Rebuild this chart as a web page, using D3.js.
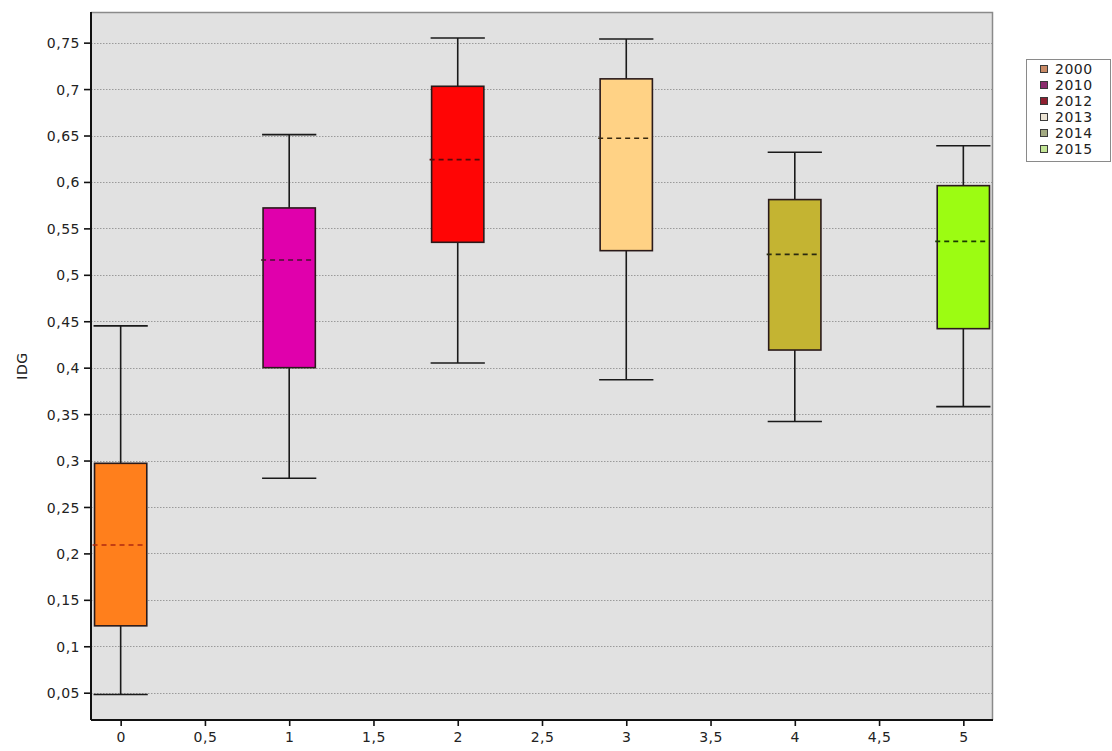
<!DOCTYPE html>
<html>
<head>
<meta charset="utf-8">
<script src="https://cdn.jsdelivr.net/npm/d3@7"></script>
<style>
  html, body { margin: 0; padding: 0; background: #ffffff; }
  svg { display: block; }
  text { font-family: "DejaVu Sans", "Liberation Sans", sans-serif; fill: #222; }
</style>
</head>
<body>
<svg id="chart" width="1112" height="751"></svg>
<script>
// ---- data ----
const categories   = ["2000", "2010", "2012", "2013", "2014", "2015"];
const positions    = [0, 1, 2, 3, 4, 5];
const whiskerLow   = [0.048, 0.281, 0.405, 0.387, 0.342, 0.358];
const q1           = [0.122, 0.400, 0.535, 0.526, 0.419, 0.442];
const medians      = [0.209, 0.516, 0.624, 0.647, 0.522, 0.536];
const q3           = [0.297, 0.572, 0.703, 0.711, 0.581, 0.596];
const whiskerHigh  = [0.445, 0.651, 0.755, 0.754, 0.632, 0.639];
const boxColors    = ["#ff7f1c", "#e000ac", "#ff0505", "#ffd285", "#c4b432", "#9cfc12"];
const legendColors = ["#c98a66", "#8c2d6e", "#8e1f30", "#ece4d4", "#a3aa82", "#c3e596"];
const medianColors = ["#b02a10", "#4a1030", "#5a0a0a", "#3a2a10", "#2a2a10", "#1a3a00"];
const yTicks = [0.05, 0.1, 0.15, 0.2, 0.25, 0.3, 0.35, 0.4, 0.45, 0.5, 0.55, 0.6, 0.65, 0.7, 0.75];
const xTicks = [0, 0.5, 1, 1.5, 2, 2.5, 3, 3.5, 4, 4.5, 5];
const yLabel = "IDG";

// ---- layout ----
const plot = { left: 91, right: 993, top: 12, bottom: 720 };
const svg = d3.select("#chart");
const x = d3.scaleLinear().domain([-0.176, 5.176]).range([plot.left, plot.right]);
const y = d3.scaleLinear().domain([0.0206, 0.783]).range([plot.bottom, plot.top]);
const fmt = d => String(d).replace(".", ",");
const boxW = x(0.31) - x(0);
const FS = "14px", LS = "0.5px";

// background
svg.append("rect")
  .attr("x", plot.left).attr("y", plot.top)
  .attr("width", plot.right - plot.left).attr("height", plot.bottom - plot.top)
  .attr("fill", "#e1e1e1");

// gridlines
svg.append("g").selectAll("line").data(yTicks).join("line")
  .attr("x1", plot.left).attr("x2", plot.right)
  .attr("y1", d => Math.round(y(d)) + 0.5).attr("y2", d => Math.round(y(d)) + 0.5)
  .attr("stroke", "#9a9a9a").attr("stroke-width", 1)
  .attr("stroke-dasharray", "1.5,1.5");

// top & right border
svg.append("path")
  .attr("d", `M${plot.left},${plot.top + 0.5}H${plot.right - 0.5}V${plot.bottom}`)
  .attr("fill", "none").attr("stroke", "#8a8a8a").attr("stroke-width", 1.5);

// boxes
const g = svg.append("g");
positions.forEach((p, i) => {
  const cx = x(p);
  g.append("line")
    .attr("x1", cx).attr("x2", cx)
    .attr("y1", y(whiskerLow[i])).attr("y2", y(whiskerHigh[i]))
    .attr("stroke", "#1a1a1a").attr("stroke-width", 1.6);
  [whiskerLow[i], whiskerHigh[i]].forEach(v => {
    g.append("line")
      .attr("x1", cx - boxW / 2 - 1).attr("x2", cx + boxW / 2 + 1)
      .attr("y1", y(v)).attr("y2", y(v))
      .attr("stroke", "#1a1a1a").attr("stroke-width", 1.6);
  });
  g.append("rect")
    .attr("x", cx - boxW / 2).attr("y", y(q3[i]))
    .attr("width", boxW).attr("height", y(q1[i]) - y(q3[i]))
    .attr("fill", boxColors[i])
    .attr("stroke", "#2a1a1a").attr("stroke-width", 1.6);
  g.append("line")
    .attr("x1", cx - boxW / 2 - 2).attr("x2", cx + boxW / 2 - 3)
    .attr("y1", y(medians[i])).attr("y2", y(medians[i]))
    .attr("stroke", medianColors[i]).attr("stroke-width", 1.6)
    .attr("stroke-dasharray", "5,4");
});

// left axis
const yAxis = d3.axisLeft(y).tickValues(yTicks).tickFormat(fmt).tickSize(7).tickPadding(4);
const ya = svg.append("g").attr("transform", `translate(${plot.left},0)`).call(yAxis);
ya.select(".domain").attr("stroke", "#111").attr("stroke-width", 2)
  .attr("d", `M0,${plot.top}V${plot.bottom}`);
ya.selectAll(".tick line").attr("stroke", "#111").attr("stroke-width", 1.6);
ya.selectAll(".tick text").style("font-size", FS).style("letter-spacing", LS)
  .attr("fill", "#222").attr("dy", "0.36em");

// bottom axis
const xAxis = d3.axisBottom(x).tickValues(xTicks).tickFormat(fmt).tickSize(6).tickPadding(6);
const xa = svg.append("g").attr("transform", `translate(0,${plot.bottom})`).call(xAxis);
xa.select(".domain").attr("stroke", "#111").attr("stroke-width", 2)
  .attr("d", `M${plot.left},0H${plot.right}`);
xa.selectAll(".tick line").attr("stroke", "#111").attr("stroke-width", 1.6);
xa.selectAll(".tick text").style("font-size", FS).style("letter-spacing", LS)
  .attr("fill", "#222");

// y label
svg.append("text")
  .attr("transform", `translate(27,${(plot.top + plot.bottom) / 2}) rotate(-90)`)
  .attr("text-anchor", "middle")
  .style("font-size", FS).style("letter-spacing", LS)
  .text(yLabel);

// legend
const lg = svg.append("g").attr("transform", "translate(1026,59)");
lg.append("rect").attr("x", 0.5).attr("y", 0.5).attr("width", 84).attr("height", 102)
  .attr("fill", "#ffffff").attr("stroke", "#8a8a8a").attr("stroke-width", 1);
categories.forEach((c, i) => {
  const ry = 10 + i * 16;
  lg.append("rect").attr("x", 14.5).attr("y", ry - 3.5).attr("width", 7).attr("height", 7)
    .attr("fill", legendColors[i]).attr("stroke", "#3a3a3a").attr("stroke-width", 1);
  lg.append("text").attr("x", 29).attr("y", ry).attr("dy", "0.36em")
    .style("font-size", FS).style("letter-spacing", LS)
    .text(c);
});
</script>
</body>
</html>
